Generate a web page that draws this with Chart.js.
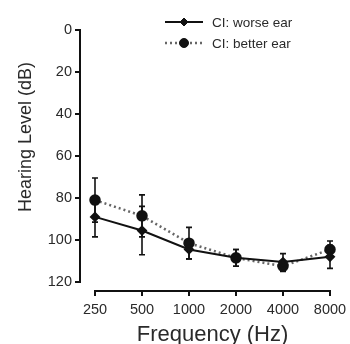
<!DOCTYPE html>
<html><head><meta charset="utf-8">
<script src="https://cdn.jsdelivr.net/npm/chart.js@4/dist/chart.umd.min.js"></script>
<style>html,body{margin:0;padding:0;background:#fff}#wrap{width:350px;height:344px}</style>
</head><body><div id="wrap"><canvas id="c" width="350" height="344"></canvas></div>
<script>
const categories = ['250', '500', '1000', '2000', '4000', '8000'];
const worseEar = [89, 95.5, 104.5, 108.5, 110.5, 108];
const worseErr = [9.5, 11.5, 4.5, 4, 4, 5.5];
const betterEar = [81, 88.5, 101.5, 108.5, 112.5, 104.5];
const betterErr = [10.5, 10, 7.5, 4, 2.5, 4];
const yTicks = [0, 20, 40, 60, 80, 100, 120];
const seriesNames = ['CI: worse ear', 'CI: better ear'];
const yTitle = 'Hearing Level (dB)';
const xTitle = 'Frequency (Hz)';
const errs = [worseErr, betterErr];

const FONT = '"Liberation Sans", Arial, sans-serif';
const TXT = '#2a2a2a';

const customPlugin = {
  id: 'custom',
  beforeDatasetsDraw(chart) {
    const ctx = chart.ctx, xs = chart.scales.x, ys = chart.scales.y, a = chart.chartArea;
    ctx.save();
    ctx.strokeStyle = '#111';
    ctx.lineWidth = 1.6;
    chart.data.datasets.forEach((ds, di) => {
      ds.data.forEach((v, i) => {
        const e = errs[di][i];
        const x = xs.getPixelForValue(i);
        const y1 = ys.getPixelForValue(v - e), y2 = ys.getPixelForValue(v + e);
        ctx.beginPath();
        ctx.moveTo(x, y1); ctx.lineTo(x, y2);
        ctx.moveTo(x - 3, y1); ctx.lineTo(x + 3, y1);
        ctx.moveTo(x - 3, y2); ctx.lineTo(x + 3, y2);
        ctx.stroke();
      });
    });
    ctx.strokeStyle = '#111';
    ctx.lineWidth = 2;
    const ax = a.left - 15;
    const yt = ys.getPixelForValue(yTicks[0]), yb = ys.getPixelForValue(yTicks[yTicks.length - 1]);
    ctx.beginPath();
    ctx.moveTo(ax, yt - 1); ctx.lineTo(ax, yb + 1);
    yTicks.forEach(t => { const y = ys.getPixelForValue(t); ctx.moveTo(ax - 5, y); ctx.lineTo(ax, y); });
    ctx.stroke();
    const ay = a.bottom + 9;
    const xl = xs.getPixelForValue(0), xr = xs.getPixelForValue(categories.length - 1);
    ctx.beginPath();
    ctx.moveTo(xl - 1, ay); ctx.lineTo(xr + 1, ay);
    categories.forEach((c, i) => { const x = xs.getPixelForValue(i); ctx.moveTo(x, ay); ctx.lineTo(x, ay + 5); });
    ctx.stroke();
    ctx.fillStyle = TXT;
    ctx.font = '18px ' + FONT;
    ctx.textAlign = 'center';
    ctx.textBaseline = 'middle';
    ctx.translate(26, 137);
    ctx.rotate(-Math.PI / 2);
    ctx.fillText(yTitle, 0, 0);
    ctx.restore();
  },
  afterDraw(chart) {
    const ctx = chart.ctx;
    ctx.save();
    const rows = [22, 43];
    chart.data.datasets.forEach((ds, di) => {
      const y = rows[di];
      ctx.strokeStyle = ds.borderColor;
      ctx.lineWidth = ds.borderWidth;
      ctx.setLineDash(ds.borderDash || []);
      ctx.beginPath(); ctx.moveTo(165, y); ctx.lineTo(203, y); ctx.stroke();
      ctx.setLineDash([]);
      ctx.fillStyle = '#111'; ctx.strokeStyle = '#111'; ctx.lineWidth = 1;
      Chart.helpers.drawPoint(ctx, {pointStyle: ds.pointStyle, radius: ds.pointRadius, borderWidth: 1, rotation: 0}, 184, y);
      ctx.fillStyle = TXT;
      ctx.font = '13.5px ' + FONT;
      ctx.textBaseline = 'middle';
      ctx.fillText(seriesNames[di], 212, y + 1);
    });
    ctx.restore();
  }
};

new Chart(document.getElementById('c'), {
  type: 'line',
  data: {
    labels: categories,
    datasets: [
      {label: seriesNames[0], data: worseEar, borderColor: '#111', backgroundColor: '#111', borderWidth: 2,
       pointStyle: 'rectRot', pointRadius: 4, pointBackgroundColor: '#111', pointBorderColor: '#111', clip: false, tension: 0},
      {label: seriesNames[1], data: betterEar, borderColor: '#666', backgroundColor: '#111', borderWidth: 2.5, borderDash: [2, 3],
       pointStyle: 'circle', pointRadius: 4.5, pointBackgroundColor: '#111', pointBorderColor: '#111', clip: false, tension: 0}
    ]
  },
  options: {
    responsive: false,
    animation: false,
    layout: {padding: {top: 30, right: 20, left: 0, bottom: 0}},
    plugins: {legend: {display: false}, tooltip: {enabled: false}},
    scales: {
      x: {
        type: 'category', offset: false,
        afterFit: s => { s.height = 62; s.paddingLeft = 0; s.paddingRight = 0; },
        grid: {display: false, drawTicks: false, tickLength: 0}, border: {display: false},
        ticks: {padding: 21, color: TXT, font: {family: FONT, size: 14.5, lineHeight: 1}, maxRotation: 0, autoSkip: false},
        title: {display: true, text: xTitle, color: TXT, font: {family: FONT, size: 22, lineHeight: 0.8}, padding: {top: 0, bottom: 0}}
      },
      y: {
        reverse: true, min: 0, max: 120,
        afterFit: s => { s.width = 95; s.paddingTop = 0; s.paddingBottom = 0; },
        afterBuildTicks: s => { s.ticks = yTicks.map(v => ({value: v})); },
        grid: {display: false, drawTicks: false, tickLength: 0}, border: {display: false},
        ticks: {padding: 23, color: TXT, font: {family: FONT, size: 14.5}},
        title: {display: false}
      }
    }
  },
  plugins: [customPlugin]
});
</script></body></html>
